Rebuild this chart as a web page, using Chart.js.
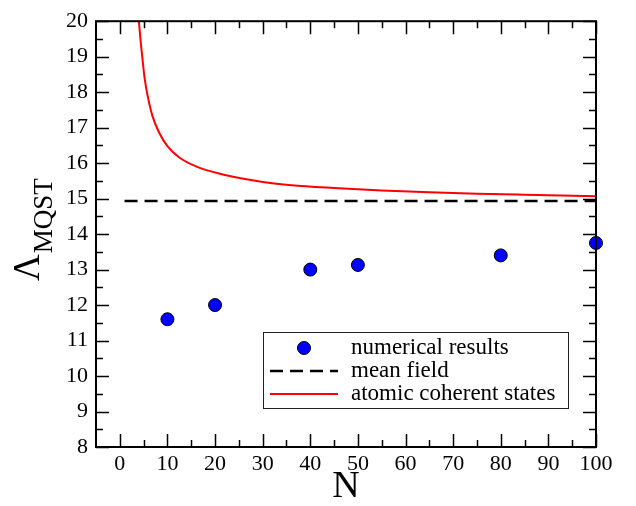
<!DOCTYPE html>
<html>
<head>
<meta charset="utf-8">
<script src="https://cdn.jsdelivr.net/npm/chart.js@4.4.1/dist/chart.umd.min.js"></script>
<style>
  html, body { margin: 0; padding: 0; background: #fff; }
  #wrap { width: 636px; height: 506px; }
</style>
</head>
<body>
<div id="wrap"><canvas id="grafico" width="636" height="506"></canvas></div>
<script>
// datos
const nNumerico = [10, 20, 40, 50, 80, 100];
const lambdaNumerico = [11.6, 12.0, 13.0, 13.13, 13.4, 13.75];

const nCampoMedio = [1, 100];
const lambdaCampoMedio = [14.93, 14.93];

const nCoherente = [3.8, 4.0, 4.4, 4.75, 5.2, 5.9, 6.9, 8.3, 10, 12.5, 16, 21, 26, 30, 36, 45, 55, 65, 75, 85, 100];
const lambdaCoherente = [20.35, 20.0, 19.4, 18.95, 18.4, 17.86, 17.31, 16.85, 16.48, 16.16, 15.91, 15.7, 15.56, 15.47, 15.38, 15.3, 15.23, 15.18, 15.14, 15.11, 15.07];

const ticksX = [0, 10, 20, 30, 40, 50, 60, 70, 80, 90, 100];
const ticksY = [8, 9, 10, 11, 12, 13, 14, 15, 16, 17, 18, 19, 20];

const etiquetas = ['numerical results', 'mean field', 'atomic coherent states'];

const serif = "'Liberation Serif', 'DejaVu Serif', serif";

const pares = (xs, ys) => xs.map((x, i) => ({ x: x, y: ys[i] }));

// marco, marcas hacia dentro, titulo del eje y y leyenda
const marcoPlugin = {
    id: 'marco',
    afterDraw(chart) {
        const ctx = chart.ctx;
        const a = chart.chartArea;
        const sx = chart.scales.x, sy = chart.scales.y;
        ctx.save();
        ctx.strokeStyle = '#000';
        ctx.lineWidth = 1.5;
        ctx.beginPath();
        // marcas x (mayores y menores cada 5)
        for (let v = 0; v <= 100; v += 5) {
            const px = Math.round(sx.getPixelForValue(v)) + 0.5;
            const l = v % 10 === 0 ? 13 : 7;
            ctx.moveTo(px, a.bottom); ctx.lineTo(px, a.bottom - l);
            ctx.moveTo(px, a.top); ctx.lineTo(px, a.top + l);
        }
        for (let v = 8; v <= 20; v += 0.5) {
            const py = Math.round(sy.getPixelForValue(v)) + 0.5;
            const l = Number.isInteger(v) ? 13 : 7;
            ctx.moveTo(a.left, py); ctx.lineTo(a.left + l, py);
            ctx.moveTo(a.right, py); ctx.lineTo(a.right - l, py);
        }
        ctx.stroke();
        ctx.lineWidth = 2;
        ctx.strokeRect(a.left, a.top, a.right - a.left, a.bottom - a.top);

        // titulo y: Lambda con subindice MQST
        ctx.fillStyle = '#000';
        ctx.textBaseline = 'alphabetic';
        ctx.textAlign = 'left';
        ctx.translate(39, 281);
        ctx.rotate(-Math.PI / 2);
        ctx.font = '37px ' + serif;
        ctx.fillText('\u039B', 0, 0);
        const w = ctx.measureText('\u039B').width;
        ctx.font = '27px ' + serif;
        ctx.fillText('MQST', w + 1, 13);
        ctx.setTransform(1, 0, 0, 1, 0, 0);

        // leyenda
        const bx = 263, by = 332, bw = 305, bh = 76;
        ctx.fillStyle = '#fff';
        ctx.fillRect(bx, by, bw, bh);
        ctx.strokeStyle = '#222';
        ctx.lineWidth = 1;
        ctx.strokeRect(bx + 0.5, by + 0.5, bw, bh);
        const filas = [348, 371, 394];
        ctx.font = '23px ' + serif;
        ctx.fillStyle = '#000';
        ctx.textBaseline = 'middle';
        etiquetas.forEach((t, i) => ctx.fillText(t, 351, filas[i]));
        ctx.beginPath();
        ctx.arc(304, filas[0], 6.5, 0, Math.PI * 2);
        ctx.fillStyle = '#0000ff';
        ctx.fill();
        ctx.strokeStyle = '#000';
        ctx.lineWidth = 1;
        ctx.stroke();
        ctx.beginPath();
        ctx.setLineDash([13, 7]);
        ctx.lineWidth = 2.5;
        ctx.moveTo(270, filas[1]); ctx.lineTo(338, filas[1]);
        ctx.stroke();
        ctx.setLineDash([]);
        ctx.beginPath();
        ctx.strokeStyle = '#ff0000';
        ctx.lineWidth = 2;
        ctx.moveTo(270, filas[2]); ctx.lineTo(338, filas[2]);
        ctx.stroke();
        ctx.restore();
    }
};

new Chart(document.getElementById('grafico').getContext('2d'), {
    type: 'scatter',
    data: {
        datasets: [
            { label: etiquetas[0], data: pares(nNumerico, lambdaNumerico),
              pointRadius: 6.5, pointHoverRadius: 6.5, backgroundColor: '#0000ff',
              borderColor: '#000', borderWidth: 1, showLine: false, clip: false },
            { label: etiquetas[1], data: pares(nCampoMedio, lambdaCampoMedio),
              showLine: true, pointRadius: 0, borderColor: '#000', borderWidth: 2.5,
              borderDash: [13, 7] },
            { label: etiquetas[2], data: pares(nCoherente, lambdaCoherente),
              showLine: true, pointRadius: 0, borderColor: '#ff0000', borderWidth: 2,
              cubicInterpolationMode: 'monotone' }
        ]
    },
    options: {
        responsive: false,
        animation: false,
        events: [],
        layout: { padding: { top: 12, right: 40, left: 0, bottom: 0 } },
        plugins: { legend: { display: false }, tooltip: { enabled: false } },
        scales: {
            x: {
                type: 'linear', min: -5, max: 100,
                afterBuildTicks: s => { s.ticks = ticksX.map(v => ({ value: v })); },
                afterFit: s => { s.height = 59; },
                grid: { display: false, drawTicks: false },
                border: { display: false },
                ticks: { color: '#000', font: { family: serif, size: 22 }, padding: 4, maxRotation: 0 },
                title: { display: true, text: 'N', color: '#000', font: { family: serif, size: 38 }, padding: { top: 0, bottom: -4 } }
            },
            y: {
                type: 'linear', min: 8, max: 20,
                afterBuildTicks: s => { s.ticks = ticksY.map(v => ({ value: v })); },
                afterFit: s => { s.width = 96; },
                grid: { display: false, drawTicks: false },
                border: { display: false },
                ticks: { color: '#000', font: { family: serif, size: 22 }, padding: 8 }
            }
        }
    },
    plugins: [marcoPlugin]
});
</script>
</body>
</html>
